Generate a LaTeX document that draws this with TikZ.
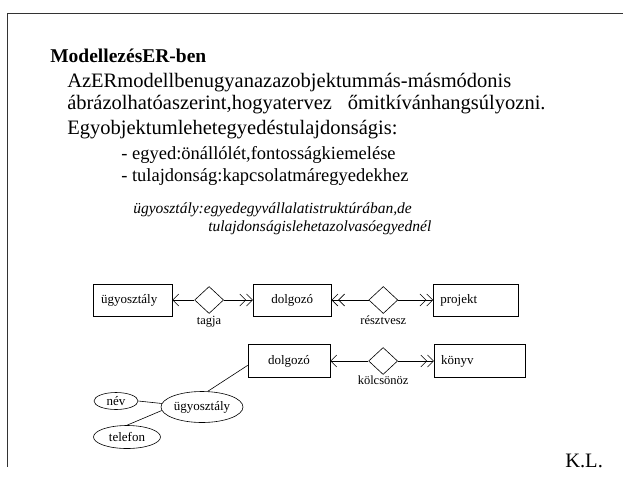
\documentclass[tikz,border=0pt]{standalone}
\usepackage{fontspec}
\setmainfont{Liberation Serif}
\usetikzlibrary{arrows.meta,positioning,shapes.geometric}

\begin{document}
\begin{tikzpicture}[
    x=1pt, y=-1pt,
    line width=0.6pt,
    node distance=0pt,
    entity/.style={draw, minimum height=32pt, inner xsep=8pt, font=\fontsize{13}{15}\selectfont},
    rel/.style={draw, diamond, inner sep=0pt, minimum width=29pt, minimum height=27pt},
    attr/.style={draw, ellipse, inner sep=0pt, font=\fontsize{13}{15}\selectfont},
    lbl/.style={inner sep=1pt, font=\fontsize{12.5}{14}\selectfont},
    body/.style={anchor=west, inner sep=0pt, align=left, font=\fontsize{20.5}{22}\selectfont},
    item/.style={anchor=west, inner sep=0pt, font=\fontsize{18.5}{22}\selectfont},
    note/.style={anchor=west, inner sep=0pt, font=\fontsize{15.5}{18}\selectfont\itshape},
    one/.style={-{Straight Barb[length=6pt,width=12pt]}},
    many/.style={-{Straight Barb[length=6pt,width=12pt] Straight Barb[length=6pt,width=12pt]}}
  ]
    \useasboundingbox (0,0) rectangle (623,477);
    \draw[line width=1.3pt, black!80] (623,13.5) -| (7.5,467);

    % text part
    \node[body, font=\fontsize{19.5}{22}\selectfont\bfseries] (title) at (50,56) {ModellezésER-ben};
    \node[body] (par1) at (67,94) {AzERmodellbenugyanazazobjektummás-másmódonis\\
      ábrázolhatóaszerint,hogyatervez\hspace{16pt}őmitkívánhangsúlyozni.};
    \node[body] (par2) at (67,130) {Egyobjektumlehetegyedéstulajdonságis:};
    \node[item] (item1) at (121,155) {- egyed:önállólét,fontosságkiemelése};
    \node[item] (item2) at (121,177) {- tulajdonság:kapcsolatmáregyedekhez};
    \node[note] (note1) at (133,210) {ügyosztály:egyedegyvállalatistruktúrában,de};
    \node[note] (note2) at (208,228) {tulajdonságislehetazolvasóegyednél};

    % ER diagram, first row
    \node[entity, text width=63pt, align=left] (ugy) at (132.5,300) {ügyosztály};
    \node[rel, right=22pt of ugy] (tagja) {};
    \node[entity, minimum width=78pt, right=29pt of tagja] (dolg) {dolgozó};
    \node[rel, right=37pt of dolg] (resztvesz) {};
    \node[entity, text width=71pt, align=left, inner xsep=7pt, right=35pt of resztvesz] (proj) {projekt};
    \node[lbl, below=1pt of tagja] (tagjaL) {tagja};
    \node[lbl, below=1pt of resztvesz] (resztveszL) {résztvesz};

    \draw[one] (tagja) -- (ugy);
    \draw[many] (tagja) -- (dolg);
    \draw[many] (resztvesz) -- (dolg);
    \draw[many] (resztvesz) -- (proj);

    % second row
    \node[entity, minimum width=82pt, minimum height=33pt] (dolg2) at (289,361) {dolgozó};
    \node[rel, right=38pt of dolg2] (kolcsonoz) {};
    \node[entity, text width=77pt, align=left, inner xsep=7pt, minimum height=33pt, right=36pt of kolcsonoz] (konyv) {könyv};
    \node[lbl, below=0pt of kolcsonoz] (kolcsonozL) {kölcsönöz};

    \draw[one] (kolcsonoz) -- (dolg2);
    \draw[many] (kolcsonoz) -- (konyv);

    % attributes
    \node[attr, minimum width=82pt, minimum height=31pt] (ugyA) at (202,407) {ügyosztály};
    \node[attr, minimum width=44pt, minimum height=17pt] (nev) at (116,401) {név};
    \node[attr, minimum width=67pt, minimum height=23pt] (telefon) at (127,437) {telefon};
    \draw (dolg2.186) -- (ugyA.70);
    \draw (nev.east) -- (ugyA.175);
    \draw (telefon.north) -- (ugyA.185);

    \node[body] (kl) at (565,461) {K.L.};
  \end{tikzpicture}
\end{document}
